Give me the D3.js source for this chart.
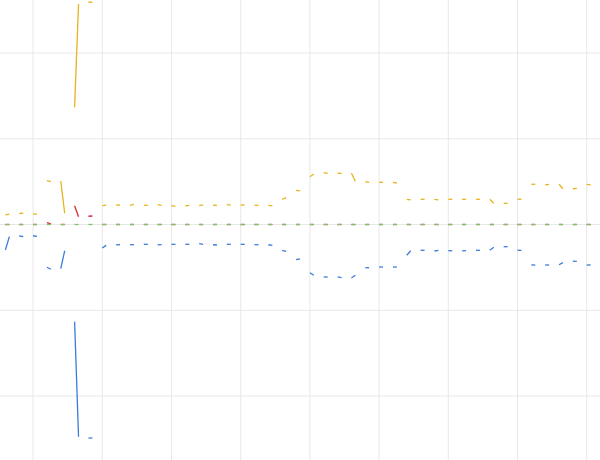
<!DOCTYPE html>
<html>
<head>
<meta charset="utf-8">
<script src="https://cdn.jsdelivr.net/npm/d3@7"></script>
<style>
  body { margin: 0; background: #fff; }
  svg { display: block; }
</style>
</head>
<body>
<div id="chart"></div>
<script>
// value at the start and at the end of each dash, one dash per sample
const upperFrom = [1.11, 1.26, 1.22, 5.11, 5.07, 13.67, 25.95, 2.19, 2.27, 2.24, 2.24, 2.31, 2.19, 2.16, 2.24, 2.24, 2.31, 2.27, 2.24, 2.24, 2.94, 3.99, 5.57, 6.04, 5.97, 5.97, 4.99, 4.92, 4.92, 2.94, 2.94, 2.94, 2.94, 2.94, 2.94, 2.94, 2.47, 2.94, 4.69, 4.61, 4.69, 4.17, 4.69];
const upperTo   = [1.22, 1.34, 1.22, 4.99, 1.31, 25.71, 25.90, 2.27, 2.27, 2.36, 2.24, 2.24, 2.12, 2.24, 2.27, 2.24, 2.27, 2.27, 2.24, 2.16, 3.13, 3.91, 5.89, 5.97, 5.97, 5.04, 4.92, 4.92, 4.84, 2.86, 2.94, 2.86, 2.94, 2.94, 2.94, 2.47, 2.47, 2.94, 4.69, 4.69, 4.17, 4.22, 4.61];
const lowerFrom = [-2.97, -1.34, -1.31, -4.99, -5.15, -11.34, -24.90, -2.74, -2.36, -2.36, -2.31, -2.36, -2.31, -2.31, -2.24, -2.36, -2.31, -2.31, -2.36, -2.36, -3.01, -4.10, -5.62, -6.12, -6.12, -6.24, -5.04, -4.96, -4.96, -3.59, -3.01, -3.09, -3.06, -3.06, -3.01, -3.01, -2.59, -3.01, -4.72, -4.72, -4.69, -4.29, -4.72];
const lowerTo   = [-1.42, -1.42, -1.38, -5.22, -3.06, -24.75, -24.90, -2.43, -2.36, -2.36, -2.31, -2.36, -2.31, -2.31, -2.31, -2.39, -2.31, -2.31, -2.36, -2.43, -3.13, -4.02, -5.92, -6.12, -6.20, -5.92, -5.04, -4.96, -4.96, -3.06, -3.01, -3.01, -3.06, -3.06, -3.01, -2.66, -2.59, -3.01, -4.72, -4.72, -4.45, -4.29, -4.72];
const meanValues = [0, 0, 0, 0, 0, 0, 0, 0, 0, 0, 0, 0, 0, 0, 0, 0, 0, 0, 0, 0, 0, 0, 0, 0, 0, 0, 0, 0, 0, 0, 0, 0, 0, 0, 0, 0, 0, 0, 0, 0, 0, 0, 0];
const signalFrom = [0, 0, 0, 0.21, 0, 2.19, 0.96, 0, 0, 0, 0, 0, 0, 0, 0, 0, 0, 0, 0, 0, 0, 0, 0, 0, 0, 0, 0, 0, 0, 0, 0, 0, 0, 0, 0, 0, 0, 0, 0, 0, 0, 0, 0];
const signalTo   = [0, 0, 0, 0.06, 0, 0.91, 0.99, 0, 0, 0, 0, 0, 0, 0, 0, 0, 0, 0, 0, 0, 0, 0, 0, 0, 0, 0, 0, 0, 0, 0, 0, 0, 0, 0, 0, 0, 0, 0, 0, 0, 0, 0, 0];
const xTicks = [2, 7, 12, 17, 22, 27, 32, 37, 42];
const yTicks = [-20, -10, 0, 10, 20];

const width = 600, height = 460;
const dash = 0.285; // dash length, in samples

const svg = d3.select('#chart')
    .append('svg')
    .attr('width', width)
    .attr('height', height);

const x = d3.scaleLinear().domain([0, 42]).range([5.4, 586.7]);
const y = d3.scaleLinear().domain([-20, 20]).range([396, 53]);

// grid
svg.append('g')
    .selectAll('line')
    .data(xTicks)
    .enter().append('line')
    .attr('x1', d => x(d)).attr('x2', d => x(d))
    .attr('y1', 0).attr('y2', height)
    .attr('stroke', '#e8e8e8')
    .attr('stroke-width', 1);

svg.append('g')
    .selectAll('line')
    .data(yTicks)
    .enter().append('line')
    .attr('x1', 0).attr('x2', width)
    .attr('y1', d => y(d)).attr('y2', d => y(d))
    .attr('stroke', '#e8e8e8')
    .attr('stroke-width', 1);

const line = d3.line()
    .x(d => x(d.t))
    .y(d => y(d.v));

const drawSeries = (from, to, color) => {
    const segs = from.map((v, i) => [{ t: i, v: v }, { t: i + dash, v: to[i] }]);
    svg.append('g')
        .selectAll('path')
        .data(segs)
        .enter().append('path')
        .attr('d', line)
        .attr('fill', 'none')
        .attr('stroke', color)
        .attr('stroke-width', 1.3);
};

drawSeries(signalFrom, signalTo, '#d8283c');
drawSeries(meanValues, meanValues, '#7cc46a');
drawSeries(upperFrom, upperTo, '#e6b41c');
drawSeries(lowerFrom, lowerTo, '#3b7bdc');
</script>
</body>
</html>
